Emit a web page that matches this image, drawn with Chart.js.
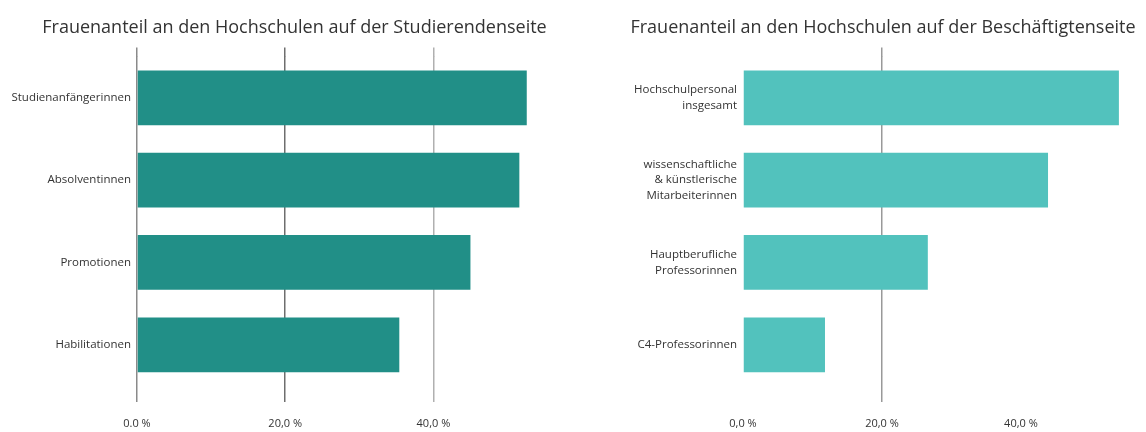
<!DOCTYPE html>
<html>
<head>
<meta charset="utf-8">
<script src="https://cdn.jsdelivr.net/npm/chart.js@4/dist/chart.umd.min.js"></script>
<style>
  html, body { margin: 0; padding: 0; background: #fff; }
  .panel { position: absolute; top: 0; height: 432px; }
  #left { left: 0; width: 589px; }
  #right { left: 620px; width: 526px; }
</style>
</head>
<body>
<div class="panel" id="left"><canvas id="studChart"></canvas></div>
<div class="panel" id="right"><canvas id="staffChart"></canvas></div>
<script>
const studTitle = 'Frauenanteil an den Hochschulen auf der Studierendenseite'
const studLabels = ['Studienanfängerinnen', 'Absolventinnen', 'Promotionen', 'Habilitationen']
const studValues = [52.6, 51.6, 45.0, 35.4]

const staffTitle = 'Frauenanteil an den Hochschulen auf der Beschäftigtenseite'
const staffLabels = [
  ['Hochschulpersonal', 'insgesamt'],
  ['wissenschaftliche', '& künstlerische', 'Mitarbeiterinnen'],
  ['Hauptberufliche', 'Professorinnen'],
  ['C4-Professorinnen'],
]
const staffValues = [54.1, 43.9, 26.6, 11.8]

const tickValues = [0, 20, 40]
const studTickLabels = ['0.0 %', '20,0 %', '40,0 %']
const staffTickLabels = ['0,0 %', '20,0 %', '40,0 %']

const textColor = '#333333'
const font = 'Open Sans'

function keepTicks(axis) {
  axis.ticks = axis.ticks.filter((t) => tickValues.includes(t.value))
}

function makeChart(canvas, opts) {
  const gridColor = (ctx) => opts.gridColors[tickValues.indexOf(ctx.tick.value)] || 'transparent'
  return new Chart(canvas, {
    type: 'bar',
    data: {
      labels: opts.labels,
      datasets: [
        {
          data: opts.values,
          backgroundColor: opts.color,
          borderWidth: 0,
          barPercentage: 0.665,
          categoryPercentage: 1,
        },
      ],
    },
    options: {
      indexAxis: 'y',
      responsive: true,
      maintainAspectRatio: false,
      animation: false,
      layout: { padding: { bottom: 1 } },
      plugins: {
        legend: false,
        tooltip: { enabled: false },
        title: {
          display: true,
          text: opts.title,
          color: textColor,
          font: { family: font, size: 18, weight: 'normal', lineHeight: 1.2 },
          padding: { top: 17, bottom: 9 },
        },
      },
      scales: {
        x: {
          min: 0,
          max: opts.max,
          afterBuildTicks: keepTicks,
          afterFit: (axis) => { axis.height = 45 },
          border: { display: false },
          grid: { color: gridColor, lineWidth: 1.5, tickLength: 16 },
          ticks: {
            padding: 15,
            color: textColor,
            font: { family: font, size: 11 },
            callback: (v) => opts.tickLabels[tickValues.indexOf(v)],
          },
        },
        xTop: {
          type: 'linear',
          position: 'top',
          min: 0,
          max: opts.max,
          afterBuildTicks: keepTicks,
          border: { display: false },
          grid: { color: gridColor, lineWidth: 1.5, tickLength: 9, drawOnChartArea: false },
          ticks: { display: false },
        },
        y: {
          afterFit: (axis) => { axis.width = opts.yWidth },
          border: { display: false },
          grid: { display: false, drawTicks: false },
          ticks: {
            padding: 6,
            color: textColor,
            font: { family: font, size: 11.5, lineHeight: 1.35 },
          },
        },
      },
    },
  })
}

makeChart(document.getElementById('studChart'), {
  title: studTitle,
  labels: studLabels,
  values: studValues,
  color: '#218f87',
  tickLabels: studTickLabels,
  gridColors: ['#8a8a8a', '#6e6e6e', '#b0b0b0'],
  max: 61,
  yWidth: 137,
})

makeChart(document.getElementById('staffChart'), {
  title: staffTitle,
  labels: staffLabels,
  values: staffValues,
  color: '#52c2bd',
  tickLabels: staffTickLabels,
  gridColors: [null, '#999999', null],
  max: 58,
  yWidth: 123,
})
</script>
</body>
</html>
